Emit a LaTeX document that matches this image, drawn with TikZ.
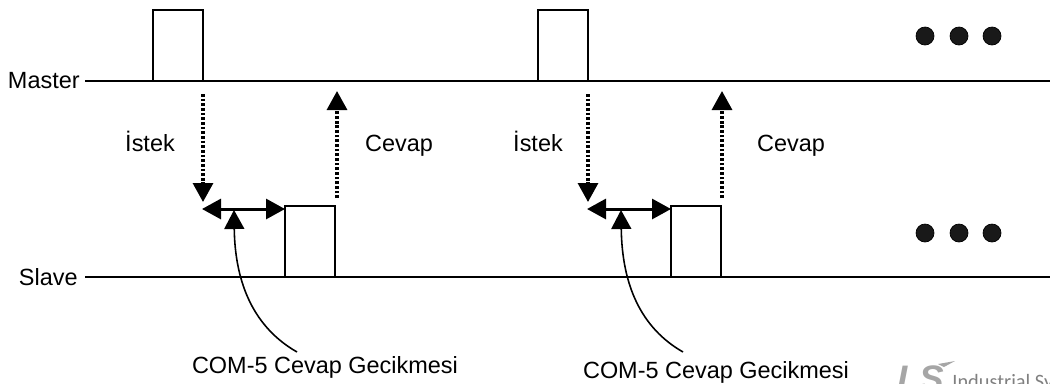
\documentclass[tikz,border=0pt]{standalone}
\usepackage{fontspec}
\setmainfont{Liberation Sans}
\newfontfamily\logofont{Carlito}
\usetikzlibrary{arrows.meta}

\tikzset{
    signal/.style={line width=1.3pt, black},
    pulsebox/.style={draw, line width=1.3pt, minimum width=1cm, minimum height=1.42cm, inner sep=0pt, outer sep=0pt, anchor=south west},
    flow/.style={->, line width=1.8pt, dash pattern=on 1.6pt off 1.05pt},
    delay/.style={<->, line width=1.7pt},
    pointer/.style={->, line width=0.9pt},
    dotmark/.style={circle, fill=black!90, draw=black, inner sep=0pt, minimum size=0.36cm},
    label/.style={font=\fontsize{13.35}{15}\selectfont, inner sep=0pt, anchor=base},
}

\begin{document}
\begin{tikzpicture}[x=0.02cm, y=-0.02cm, >={Triangle[length=3.8mm, width=4mm]}]

    \useasboundingbox (0,0) rectangle (1050,383);

    \node[label, anchor=base east] (master) at (80,88) {Master};
    \node[label, anchor=base east] (slave) at (78,285) {Slave};
    \coordinate (masterstart) at (85,81);
    \coordinate (slavestart) at (85,277);
    \coordinate (masterend) at (1050,81);
    \coordinate (slaveend) at (1050,277);
    \draw[signal] (masterstart) -- (masterend);
    \draw[signal] (slavestart) -- (slaveend);

    \node[pulsebox] (reqa) at (153,81) {};
    \node[pulsebox] (reqb) at (538,81) {};
    \node[pulsebox] (respa) at (285,277) {};
    \node[pulsebox] (respb) at (671,277) {};

    \coordinate (downatop) at (203,94);
    \coordinate (downabot) at (203,202);
    \coordinate (upabot) at (337,198);
    \coordinate (upatop) at (337,91);
    \coordinate (downbtop) at (588,94);
    \coordinate (downbbot) at (588,202);
    \coordinate (upbbot) at (722,198);
    \coordinate (upbtop) at (722,91);
    \draw[flow] (downatop) -- (downabot);
    \draw[flow] (upabot) -- (upatop);
    \draw[flow] (downbtop) -- (downbbot);
    \draw[flow] (upbbot) -- (upbtop);

    \node[label] (reqtexta) at (150,151) {İstek};
    \node[label] (resptexta) at (399,151) {Cevap};
    \node[label] (reqtextb) at (538,151) {İstek};
    \node[label] (resptextb) at (791,151) {Cevap};

    \coordinate (gapa) at (202,209);
    \coordinate (gapb) at (587,209);
    \draw[delay] (gapa) -- (respa.north west |- gapa);
    \draw[delay] (gapb) -- (respb.north west |- gapb);

    \node[label] (delaya) at (325,373) {COM-5 Cevap Gecikmesi};
    \node[label] (delayb) at (716,378) {COM-5 Cevap Gecikmesi};
    \coordinate (tipa) at (234,210);
    \coordinate (tipb) at (621,210);
    \coordinate (taila) at (297,352);
    \coordinate (tailb) at (683,352);
    \draw[pointer] (taila) .. controls (255,328) and (235,285) .. (tipa);
    \draw[pointer] (tailb) .. controls (641,328) and (622,285) .. (tipb);

    \node[dotmark] (mdota) at (925,36) {};
    \node[dotmark] (mdotb) at (959,36) {};
    \node[dotmark] (mdotc) at (992,36) {};
    \node[dotmark] (sdota) at (925,233) {};
    \node[dotmark] (sdotb) at (959,233) {};
    \node[dotmark] (sdotc) at (992,233) {};

    \node[black!35, anchor=base west, inner sep=0pt, font=\fontsize{21}{23}\selectfont\bfseries\itshape] (logo) at (897,391) {LS};
    \fill[black!35] (938,364) -- (955,361) -- (944,367) -- cycle;
    \node[black!50, anchor=base west, inner sep=0pt, font=\fontsize{11.6}{12}\logofont] (company) at (952,388) {Industrial Sy};

\end{tikzpicture}
\end{document}
